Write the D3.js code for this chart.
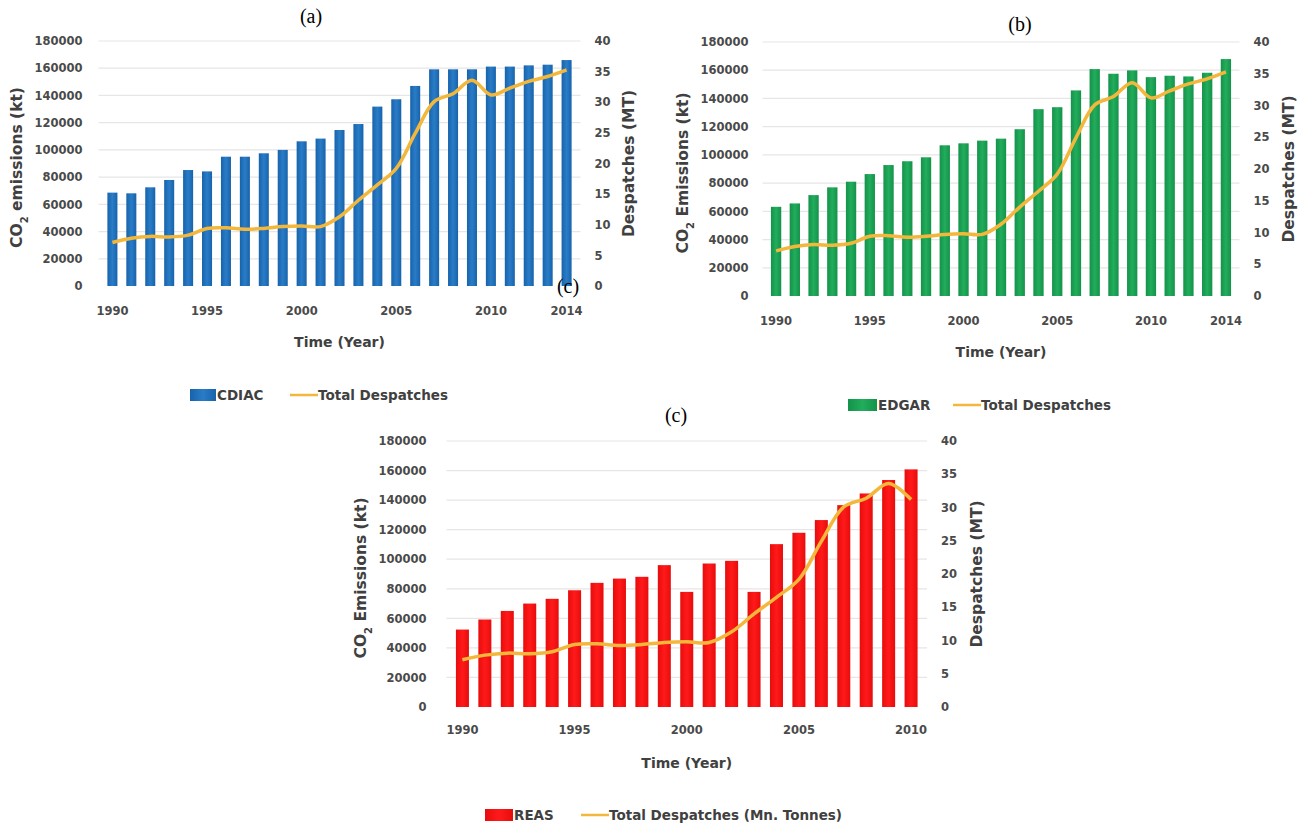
<!DOCTYPE html>
<html>
<head>
<meta charset="utf-8">
<script src="https://cdn.jsdelivr.net/npm/d3@7"></script>
<style>
  body { margin: 0; background: #fff; }
  svg text { font-family: "DejaVu Sans", "Liberation Sans", Arial, sans-serif; }
  .tick-lbl { font-size: 11.5px; font-weight: bold; fill: #4a4a4a; }
  .ax-title { font-size: 15.5px; font-weight: bold; fill: #404040; }
  .x-title { font-size: 14px; font-weight: bold; fill: #404040; }
  .panel-title { font-family: "Liberation Serif", "Times New Roman", serif !important; font-size: 20px; fill: #000; }
  .leg { font-size: 13.5px; font-weight: bold; fill: #404040; }
</style>
</head>
<body>
<svg id="chart" width="1303" height="829"></svg>
<script>
// years on the x axis
const years = d3.range(1990, 2015);
const yearsReas = d3.range(1990, 2011);
const yearTicks = [1990, 1995, 2000, 2005, 2010, 2014];
const yearTicksReas = [1990, 1995, 2000, 2005, 2010];

// CO2 emissions (kt)
const cdiac = [68600, 68100, 72500, 77900, 85200, 84200, 95000, 95000, 97500, 100000,
  106300, 108300, 114600, 119000, 131800, 137200, 147000, 159200, 159200, 159200,
  161200, 161200, 162100, 162600, 166000];
const edgar = [63200, 65600, 71500, 77000, 81000, 86400, 92800, 95500, 98300, 106800,
  108200, 110100, 111500, 118200, 132400, 133800, 145700, 160800, 157500, 159900,
  155100, 156100, 155600, 158200, 167900];
const reas = [52400, 59200, 65000, 70000, 73200, 79000, 84000, 86900, 88100, 96000,
  77900, 97100, 98900, 77900, 110200, 117900, 126500, 136600, 144500, 153600, 160800];

// total despatches (MT)
const despatches = [7.1, 7.8, 8.1, 8.0, 8.3, 9.4, 9.5, 9.25, 9.4, 9.7,
  9.8, 9.7, 11.3, 14.0, 16.5, 19.2, 24.9, 30.1, 31.4, 33.6,
  31.2, 32.3, 33.4, 34.2, 35.3];

const leftTicks = d3.range(0, 180001, 20000);
const rightTicks = d3.range(0, 41, 5);

const svg = d3.select("#chart");
const defs = svg.append("defs");

function makeGrad(id, dark, light) {
  const g = defs.append("linearGradient").attr("id", id)
    .attr("x1", "0%").attr("x2", "100%").attr("y1", "0%").attr("y2", "0%");
  g.append("stop").attr("offset", "0%").attr("stop-color", dark);
  g.append("stop").attr("offset", "50%").attr("stop-color", light);
  g.append("stop").attr("offset", "100%").attr("stop-color", dark);
}
makeGrad("gBlue", "#1763ab", "#2a7cc7");
makeGrad("gGreen", "#14924a", "#22ad5c");
makeGrad("gRed", "#e80c0c", "#ff1a1a");

const lineColor = "#f3b73c";

function drawPanel(p) {
  const x = d3.scaleBand().domain(p.years).range([p.x0, p.x1]).padding(p.pad);
  const y = d3.scaleLinear().domain([0, 180000]).range([p.yb, p.yt]);
  const y2 = d3.scaleLinear().domain([0, 40]).range([p.yb, p.yt]);
  const g = svg.append("g");

  // gridlines
  g.selectAll(".grid").data(leftTicks.slice(1)).enter().append("line")
    .attr("x1", p.x0).attr("x2", p.x1)
    .attr("y1", d => y(d)).attr("y2", d => y(d))
    .attr("stroke", "#e6e6e6").attr("stroke-width", 1.2);

  // bars
  g.selectAll(".bar").data(p.values).enter().append("rect")
    .attr("x", (d, i) => x(p.years[i]))
    .attr("y", d => y(d))
    .attr("width", x.bandwidth())
    .attr("height", d => p.yb - y(d))
    .attr("fill", `url(#${p.grad})`);

  // despatches line
  const line = d3.line()
    .x((d, i) => x(p.years[i]) + x.bandwidth() / 2)
    .y(d => y2(d))
    .curve(d3.curveCatmullRom);
  g.append("path").datum(despatches.slice(0, p.years.length))
    .attr("d", line).attr("fill", "none")
    .attr("stroke", lineColor).attr("stroke-width", 3.5)
    .attr("stroke-linejoin", "round");

  // left axis
  const la = d3.axisLeft(y).tickValues(leftTicks).tickSize(0).tickPadding(p.lpad)
    .tickFormat(d3.format("d"));
  g.append("g").attr("transform", `translate(${p.x0},0)`).call(la)
    .call(s => s.select(".domain").remove())
    .selectAll("text").attr("class", "tick-lbl");

  // right axis
  const ra = d3.axisRight(y2).tickValues(rightTicks).tickSize(0).tickPadding(p.rpad);
  g.append("g").attr("transform", `translate(${p.x1},0)`).call(ra)
    .call(s => s.select(".domain").remove())
    .selectAll("text").attr("class", "tick-lbl");

  // bottom axis
  const ba = d3.axisBottom(x).tickValues(p.ticks).tickSize(0).tickPadding(p.bpad)
    .tickFormat(d3.format("d"));
  g.append("g").attr("transform", `translate(0,${p.yb})`).call(ba)
    .call(s => s.select(".domain").remove())
    .selectAll("text").attr("class", "tick-lbl");

  // axis titles
  const lt = g.append("text").attr("class", "ax-title")
    .attr("text-anchor", "middle")
    .attr("transform", `translate(${p.ltx},${(p.yt + p.yb) / 2 + 4}) rotate(-90)`);
  lt.append("tspan").text("CO");
  lt.append("tspan").text("2").attr("font-size", "10px").attr("baseline-shift", "sub");
  lt.append("tspan").text(p.ltitle);

  g.append("text").attr("class", "ax-title")
    .attr("text-anchor", "middle")
    .attr("transform", `translate(${p.rtx},${(p.yt + p.yb) / 2}) rotate(-90)`)
    .text("Despatches (MT)");

  g.append("text").attr("class", "x-title")
    .attr("x", (p.x0 + p.x1) / 2).attr("y", p.ttY)
    .attr("text-anchor", "middle")
    .text("Time (Year)");

  // panel label
  g.append("text").attr("class", "panel-title")
    .attr("x", p.labX).attr("y", p.labY)
    .attr("text-anchor", "middle").text(p.label);

  // legend
  const lg = g.append("g").attr("transform", `translate(${p.legX},${p.legY})`);
  lg.append("rect").attr("x", 0).attr("y", -6).attr("width", p.swW).attr("height", 12)
    .attr("fill", `url(#${p.grad})`);
  lg.append("text").attr("class", "leg").attr("x", p.swW + 1).attr("y", 5).text(p.series);
  lg.append("line").attr("x1", p.lineX).attr("x2", p.lineX + 28)
    .attr("y1", 0).attr("y2", 0)
    .attr("stroke", lineColor).attr("stroke-width", 2.5);
  lg.append("text").attr("class", "leg").attr("x", p.lineX + 28).attr("y", 5).text(p.lineName);
}

drawPanel({
  years: years, values: cdiac, ticks: yearTicks, grad: "gBlue", pad: 0.47,
  x0: 98.5, x1: 580.5, yt: 41, yb: 286, lpad: 16, rpad: 14, bpad: 21,
  ltx: 22, rtx: 634, ltitle: " emissions (kt)", ttY: 347,
  label: "(a)", labX: 311, labY: 23,
  legX: 190, legY: 395, swW: 26, series: "CDIAC", lineX: 100, lineName: "Total Despatches"
});

drawPanel({
  years: years, values: edgar, ticks: yearTicks, grad: "gGreen", pad: 0.45,
  x0: 762.5, x1: 1239.5, yt: 42, yb: 296, lpad: 14, rpad: 14, bpad: 21,
  ltx: 688, rtx: 1294, ltitle: " Emissions (kt)", ttY: 357,
  label: "(b)", labX: 1020, labY: 31,
  legX: 848, legY: 405, swW: 29, series: "EDGAR", lineX: 105, lineName: "Total Despatches"
});

drawPanel({
  years: yearsReas, values: reas, ticks: yearTicksReas, grad: "gRed", pad: 0.42,
  x0: 446.5, x1: 927, yt: 441, yb: 707, lpad: 20, rpad: 14, bpad: 19,
  ltx: 366, rtx: 982, ltitle: " Emissions (kt)", ttY: 768,
  label: "(c)", labX: 676, labY: 422,
  legX: 485, legY: 815, swW: 28, series: "REAS", lineX: 96, lineName: "Total Despatches (Mn. Tonnes)"
});

// stray label overlapping panel (a)
svg.append("text").attr("class", "panel-title")
  .attr("x", 568).attr("y", 293).attr("text-anchor", "middle").text("(c)");
</script>
</body>
</html>
